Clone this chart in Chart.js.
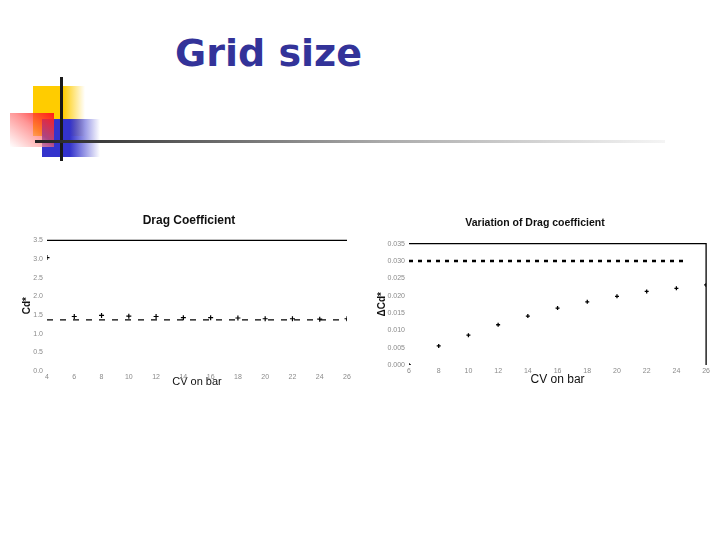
<!DOCTYPE html>
<html lang="en">
<head>
    <meta charset="UTF-8">
    <title>Grid size</title>
    <script src="https://cdn.jsdelivr.net/npm/chart.js"></script>
    <style>
        body {
            margin: 0;
            width: 720px;
            height: 540px;
            background: #fff;
            position: relative;
            overflow: hidden;
            font-family: "Liberation Sans", Arial, sans-serif;
        }

        .slide-title {
            position: absolute;
            left: 175px;
            top: 34px;
            font-family: "DejaVu Sans", Verdana, sans-serif;
            font-weight: bold;
            font-size: 38px;
            line-height: 38px;
            color: #333399;
            white-space: nowrap;
        }

        .deco { position: absolute; }
        .yellow { left: 33px; top: 86px; width: 52px; height: 50px;
                  background: linear-gradient(to right, #ffcc00 0%, #ffcc00 58%, rgba(255,204,0,0) 100%); }
        .blue   { left: 42px; top: 119px; width: 58px; height: 38px;
                  background: linear-gradient(to right, #3333cc 0%, #3333cc 48%, rgba(51,51,204,0) 100%); }
        .red    { left: 10px; top: 113px; width: 44px; height: 34px;
                  background: linear-gradient(to bottom left, #ff1a1a 0%, rgba(255,80,80,0.6) 45%, rgba(255,255,255,0.9) 100%); }
        .vline  { left: 60px; top: 77px; width: 3px; height: 84px; background: #1a1a1a; }
        .hline  { left: 35px; top: 140px; width: 630px; height: 3px;
                  background: linear-gradient(to right, #222 0%, #555 20%, #aaa 55%, rgba(220,220,220,0.3) 100%); }

        .chart-box { position: absolute; }
        #leftBox  { left: 0; top: 205px; width: 380px; height: 190px; }
        #rightBox { left: 362px; top: 205px; width: 350px; height: 185px; }
    </style>
</head>
<body>

    <div class="deco yellow"></div>
    <div class="deco blue"></div>
    <div class="deco red"></div>
    <div class="deco vline"></div>
    <div class="deco hline"></div>
    <div class="slide-title">Grid size</div>

    <div class="chart-box" id="leftBox"><canvas id="cdChart"></canvas></div>
    <div class="chart-box" id="rightBox"><canvas id="dcdChart"></canvas></div>

    <script>
        // Drag coefficient vs CV on bar
        const cvLeft = [4, 6, 8, 10, 12, 14, 16, 18, 20, 22, 24, 26];
        const cdStar = [3.04, 1.46, 1.49, 1.47, 1.46, 1.43, 1.43, 1.42, 1.40, 1.40, 1.39, 1.40];
        const cdRef = 1.37;
        const cdMax = 3.5;

        // Variation of drag coefficient
        const cvRight = [6, 8, 10, 12, 14, 16, 18, 20, 22, 24, 26];
        const dCd = [0.000, 0.0055, 0.0086, 0.0116, 0.0141, 0.0164, 0.0182, 0.0198, 0.0212, 0.0221, 0.0231];
        const dCdLimit = 0.030;
        const dCdMax = 0.035;

        const tickColor = '#8a8a8a';
        const tickFont = { family: 'Liberation Sans', size: 7 };

        function pairs(xs, ys) {
            return xs.map((x, i) => ({ x: x, y: ys[i] }));
        }

        const leftFirst = cvLeft[0], leftLast = cvLeft[cvLeft.length - 1];
        new Chart(document.getElementById('cdChart'), {
            type: 'scatter',
            data: {
                datasets: [{
                    data: pairs(cvLeft, cdStar),
                    pointStyle: 'cross',
                    pointRadius: 2.5,
                    borderColor: '#000',
                    borderWidth: 1.2,
                    showLine: false
                }, {
                    data: [{ x: leftFirst, y: cdRef }, { x: leftLast, y: cdRef }],
                    showLine: true,
                    borderDash: [6, 7],
                    borderColor: '#000',
                    borderWidth: 1.2,
                    pointRadius: 0
                }, {
                    data: [{ x: leftFirst, y: cdMax }, { x: leftLast, y: cdMax }],
                    showLine: true,
                    borderColor: '#000',
                    borderWidth: 1.3,
                    pointRadius: 0,
                    clip: 4
                }]
            },
            options: {
                animation: false,
                responsive: true,
                maintainAspectRatio: false,
                // left padding shifts the title box so it sits a bit left of the plot centre
                layout: { padding: { left: 31, right: 33, top: 0, bottom: 0 } },
                plugins: {
                    legend: { display: false },
                    tooltip: { enabled: false },
                    title: {
                        display: true,
                        text: 'Drag Coefficient',
                        color: '#111',
                        font: { family: 'Liberation Sans', size: 12, weight: 'bold' },
                        padding: { top: 8, bottom: 13 }
                    }
                },
                scales: {
                    x: {
                        type: 'linear',
                        min: leftFirst,
                        max: leftLast,
                        afterFit: s => { s.height = 24; },
                        grid: { display: false, drawTicks: false },
                        border: { display: false },
                        ticks: { stepSize: 2, color: tickColor, font: tickFont, padding: 2, maxRotation: 0 },
                        title: {
                            display: true,
                            text: 'CV on bar',
                            color: '#111',
                            font: { family: 'Liberation Sans', size: 11 },
                            padding: { top: 0, bottom: 6 }
                        }
                    },
                    y: {
                        min: 0,
                        max: cdMax,
                        afterFit: s => { s.width = 16; },
                        grid: { display: false, drawTicks: false },
                        border: { display: false },
                        ticks: { stepSize: 0.5, color: tickColor, font: tickFont, padding: 4,
                                 callback: v => v.toFixed(1) },
                        title: {
                            display: true,
                            text: 'Cd*',
                            color: '#111',
                            font: { family: 'Liberation Sans', size: 10, weight: 'bold' },
                            padding: { top: -10, bottom: 0 }
                        }
                    }
                }
            }
        });

        const rightFirst = cvRight[0], rightLast = cvRight[cvRight.length - 1];
        new Chart(document.getElementById('dcdChart'), {
            type: 'scatter',
            data: {
                datasets: [{
                    data: pairs(cvRight, dCd),
                    pointStyle: 'cross',
                    pointRadius: 2,
                    borderColor: '#000',
                    borderWidth: 1.3,
                    showLine: false
                }, {
                    data: [{ x: rightFirst, y: dCdLimit }, { x: rightLast - 1.4, y: dCdLimit }],
                    showLine: true,
                    borderDash: [4, 5],
                    borderColor: '#000',
                    borderWidth: 2.4,
                    pointRadius: 0
                }, {
                    data: [{ x: rightFirst, y: dCdMax }, { x: rightLast, y: dCdMax }, { x: rightLast, y: 0 }],
                    showLine: true,
                    borderColor: '#000',
                    borderWidth: 1.3,
                    pointRadius: 0,
                    clip: 4
                }]
            },
            options: {
                animation: false,
                responsive: true,
                maintainAspectRatio: false,
                layout: { padding: { left: 0, right: 4, top: 0, bottom: 0 } },
                plugins: {
                    legend: { display: false },
                    tooltip: { enabled: false },
                    title: {
                        display: true,
                        text: 'Variation of Drag coefficient',
                        color: '#111',
                        font: { family: 'Liberation Sans', size: 10.5, weight: 'bold' },
                        padding: { top: 12, bottom: 14 }
                    }
                },
                scales: {
                    x: {
                        type: 'linear',
                        min: rightFirst,
                        max: rightLast,
                        afterFit: s => { s.height = 25; },
                        grid: { display: false, drawTicks: false },
                        border: { display: false },
                        ticks: { stepSize: 2, color: tickColor, font: tickFont, padding: 2, maxRotation: 0 },
                        title: {
                            display: true,
                            text: 'CV on bar',
                            color: '#111',
                            font: { family: 'Liberation Sans', size: 12 },
                            padding: { top: 0, bottom: 3 }
                        }
                    },
                    y: {
                        min: 0,
                        max: dCdMax,
                        afterFit: s => { s.width = 47; },
                        grid: { display: false, drawTicks: false },
                        border: { display: false },
                        ticks: { stepSize: 0.005, color: tickColor, font: tickFont, padding: 4,
                                 callback: v => v.toFixed(3) },
                        title: {
                            display: true,
                            text: 'ΔCd*',
                            color: '#111',
                            font: { family: 'Liberation Sans', size: 10, weight: 'bold' },
                            padding: { top: 14, bottom: 0 }
                        }
                    }
                }
            }
        });
    </script>

</body>
</html>
